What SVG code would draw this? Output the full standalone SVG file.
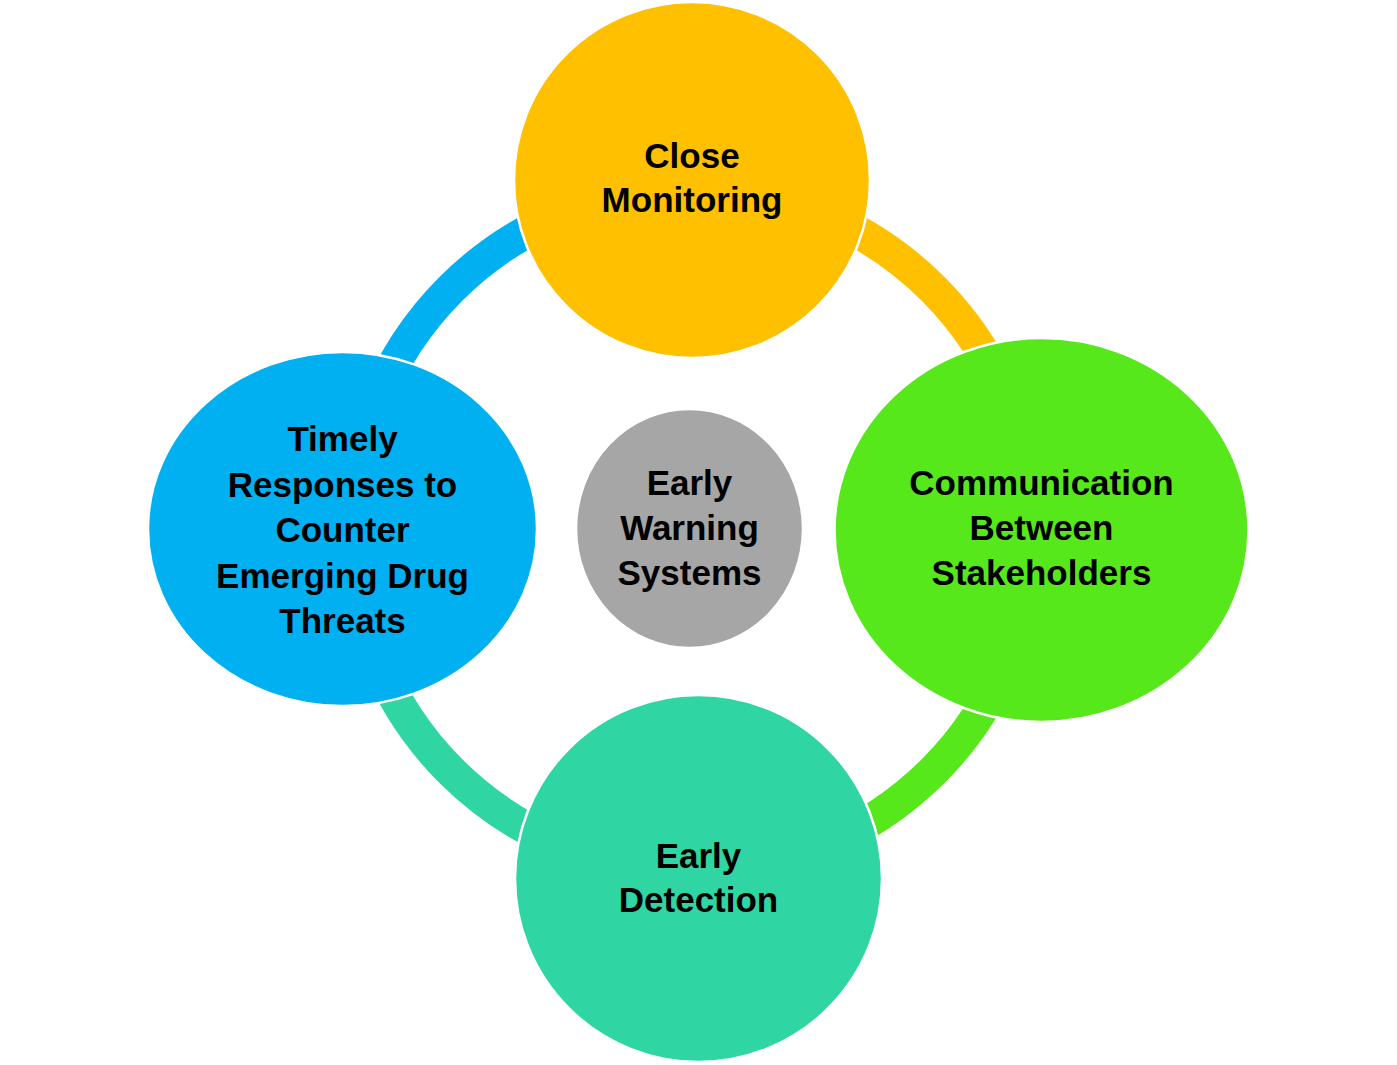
<svg xmlns="http://www.w3.org/2000/svg" width="1397" height="1065" viewBox="0 0 1397 1065">
<style>
.arc{fill:none;stroke-width:33;}
.node{stroke:#ffffff;stroke-width:2.5;}
.lbl{font-family:"Liberation Sans",Arial,sans-serif;font-weight:bold;font-size:35px;fill:#000000;text-anchor:middle;}
</style>
<rect width="1397" height="1065" fill="#ffffff"/>
<g id="connectors">
<path class="arc" stroke="#00B0F0" d="M351,530 A341,341 0 0 1 692,189"/>
<path class="arc" stroke="#FFC000" d="M692,189 A341,341 0 0 1 1033,530"/>
<path class="arc" stroke="#56E81A" d="M1033,530 A341,341 0 0 1 692,871"/>
<path class="arc" stroke="#2FD6A3" d="M692,871 A341,341 0 0 1 351,530"/>
</g>
<g id="node-center">
<ellipse class="node" cx="689.5" cy="528.5" rx="113.5" ry="119.5" fill="#A6A6A6"/>
<text class="lbl" x="689.5" y="495">Early</text>
<text class="lbl" x="689.5" y="540">Warning</text>
<text class="lbl" x="689.5" y="585">Systems</text>
</g>
<g id="node-top">
<circle class="node" cx="692" cy="180" r="178" fill="#FFC000"/>
<text class="lbl" x="692" y="168">Close</text>
<text class="lbl" x="692" y="212">Monitoring</text>
</g>
<g id="node-right">
<ellipse class="node" cx="1041.5" cy="530" rx="207" ry="192" fill="#56E81A"/>
<text class="lbl" x="1041.5" y="495">Communication</text>
<text class="lbl" x="1041.5" y="540">Between</text>
<text class="lbl" x="1041.5" y="585">Stakeholders</text>
</g>
<g id="node-bottom">
<circle class="node" cx="698.5" cy="878.5" r="183.5" fill="#2FD6A3"/>
<text class="lbl" x="698.5" y="868">Early</text>
<text class="lbl" x="698.5" y="912">Detection</text>
</g>
<g id="node-left">
<ellipse class="node" cx="342.5" cy="529" rx="194.5" ry="177" fill="#00B0F0"/>
<text class="lbl" x="342.5" y="451">Timely</text>
<text class="lbl" x="342.5" y="497">Responses to</text>
<text class="lbl" x="342.5" y="542">Counter</text>
<text class="lbl" x="342.5" y="588">Emerging Drug</text>
<text class="lbl" x="342.5" y="633">Threats</text>
</g>
</svg>
